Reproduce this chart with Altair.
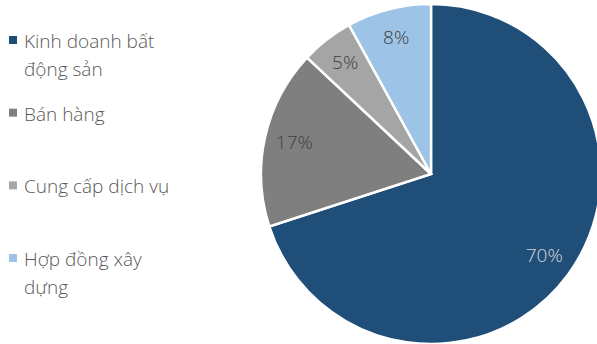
import altair as alt
import pandas as pd

categories = ["Kinh doanh bất động sản", "Bán hàng", "Cung cấp dịch vụ", "Hợp đồng xây dựng"]
legend_labels = ["Kinh doanh bất\nđộng sản", "Bán hàng", "Cung cấp dịch vụ", "Hợp đồng xây\ndựng"]
values = [70, 17, 5, 8]
pct_labels = ["70%", "17%", "5%", "8%"]
colors = ["#1F4E79", "#7F7F7F", "#A5A5A5", "#9DC3E6"]
label_colors = ["#D9D9D9", "#404040", "#404040", "#404040"]

df = pd.DataFrame({
    "cat": categories,
    "legend": legend_labels,
    "value": values,
    "pct": pct_labels,
    "order": list(range(len(categories))),
    "lc": label_colors,
})

FONT = "Open Sans"
CX, CY, R = 431, 174, 170

color = alt.Color("cat:N", scale=alt.Scale(domain=categories, range=colors), legend=None)

base = alt.Chart(df)

pie = base.mark_arc(outerRadius=R, stroke="white", strokeWidth=2.5).encode(
    theta=alt.Theta("value:Q", stack=True),
    order=alt.Order("order:Q"),
    color=color,
    x=alt.value(CX),
    y=alt.value(CY),
)

labels = base.mark_text(radius=140, font=FONT, fontSize=19, fontWeight=300).encode(
    theta=alt.Theta("value:Q", stack=True),
    order=alt.Order("order:Q"),
    text="pct:N",
    color=alt.Color("lc:N", scale=None),
    x=alt.value(CX),
    y=alt.value(CY),
)

ypos = alt.Y("cat:N", scale=alt.Scale(type="point", domain=categories, range=[40, 258], padding=0), axis=None)

leg_sq = base.mark_square(size=64, opacity=1).encode(
    x=alt.value(13),
    y=ypos,
    color=color,
)

leg_txt = base.mark_text(align="left", baseline="alphabetic", dy=8, font=FONT, fontSize=19, fontWeight=300,
                         lineBreak="\n", lineHeight=28, color="#595959").encode(
    x=alt.value(24),
    y=ypos,
    text="legend:N",
)

chart = alt.layer(pie, labels, leg_sq, leg_txt).properties(
    width=597, height=344,
    autosize=alt.AutoSizeParams(type="none"),
    padding=0,
).configure_view(stroke=None)

chart.save("out.html", embed_options={"renderer": "svg", "actions": False})
